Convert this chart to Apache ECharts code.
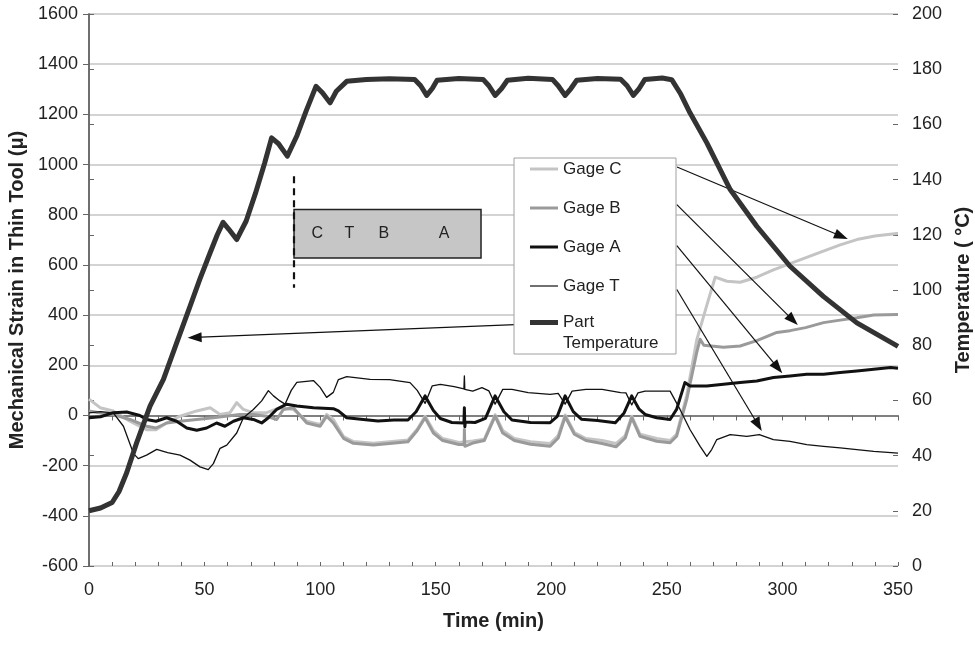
<!DOCTYPE html>
<html><head><meta charset="utf-8">
<script src="https://cdn.jsdelivr.net/npm/echarts@6/dist/echarts.min.js"></script>
<style>html,body{margin:0;padding:0;background:#fff}#c{width:975px;height:645px}</style>
</head><body><div id="c"></div><script>
const FONT = '"Liberation Sans", Arial, sans-serif';

// ---- data: [time (min), value] ----
const partTemperature = [[0,20],[5,21],[10,23],[13,27],[16.3,33.8],[20.6,44.6],[26.4,57.9],[32.2,67.6],[38,81],[43.7,94.1],[48,104],[52.4,113.5],[55.5,120],[58,124.5],[60.5,122],[63.9,118.3],[68,125],[72,135],[76,146],[79,155.1],[82,153],[85.8,148.5],[90,156],[94,165],[98.2,173.8],[101,171.5],[104.3,167.8],[107,172],[111.5,175.6],[120,176.3],[130,176.5],[140.9,176.3],[143.5,174],[146.1,170.5],[148.5,173],[150.6,176],[160,176.6],[170.5,176.3],[173,174],[175.7,170.5],[178.5,173],[181,176],[190,176.7],[200.5,176.3],[203,174],[206,170.5],[208.5,173],[211,176],[220,176.6],[230,176.4],[232.8,174],[235.5,170.5],[238,173],[240.5,176.3],[248,176.8],[252.1,176.2],[256,171],[260,164.2],[267.3,153.3],[277.4,136.4],[288.9,123.1],[303.3,108.6],[317.7,97.7],[332.2,88.1],[350,79.6]];

const gageA = [[0,-9],[5,-5],[10.5,11],[16.3,14],[22,0],[24.9,-16],[29,-23],[33.6,-9],[37.9,-23],[42.3,-50],[46.6,-59],[50.9,-50],[55.2,-30],[58.8,-43],[62.5,-23],[66.8,-9],[71.1,-16],[74.7,-30],[77.6,-9],[81.2,24],[85.5,45],[89.9,38],[97.1,31],[105.7,27],[107.9,18],[111.5,-9],[118.7,-16],[125,-22],[132,-18],[138,-18],[141.5,15],[145.4,78],[149,20],[152,-12],[157,-28],[162.2,-30],[162.4,31],[162.6,-45],[162.8,-26],[167,-28],[171.5,-12],[175.7,78],[179.5,15],[183,-18],[191,-28],[199.5,-29],[202.5,-5],[206,78],[209.5,15],[213,-15],[220,-20],[227.7,-29],[231.5,10],[234.8,78],[238,25],[240.6,4],[245.6,-9],[251.4,-16],[254.2,24],[257.8,131],[260,117],[267.3,117],[274.5,124],[281.7,131],[288.9,137],[296.1,151],[303.3,157],[310.5,164],[317.8,164],[325,171],[332.2,177],[339.5,184],[346.8,191],[350,188]];

const gageT = [[0,10],[5,15],[10.5,10],[14.9,-43],[19.2,-151],[21.3,-172],[24.9,-158],[29.3,-135],[34,-148],[39.4,-158],[43.7,-178],[48,-205],[51.6,-216],[53.8,-192],[56.7,-131],[59.6,-118],[63.9,-70],[66.8,-9],[71.1,24],[74.7,58],[77.6,99],[79.8,78],[82.6,58],[84.8,45],[87.5,100],[89.9,132],[97.1,139],[100,112],[102.8,72],[105.7,92],[107.9,143],[111.5,155],[121.6,144],[130,143],[138.9,131],[142,100],[145.4,48],[148.5,118],[152,124],[158,115],[162.2,106],[162.4,158],[162.6,104],[166,97],[170,111],[173,98],[175.7,45],[179,104],[183,104],[190,91],[199.5,84],[203,88],[206,45],[209,97],[215,104],[222,104],[230,91],[232.3,90],[234.8,42],[237.5,90],[240.6,97],[251.4,97],[255.7,24],[260,-56],[264.4,-123],[267.3,-163],[269.4,-136],[271.6,-96],[277.4,-76],[284.6,-83],[290,-76],[296.1,-96],[303.3,-103],[310.5,-116],[317.8,-123],[325,-129],[332.2,-136],[339.5,-143],[350,-150]];

const gageB = [[0,18],[5,10],[10.5,4],[17.7,-16],[24.9,-43],[29,-50],[33.6,-30],[39.4,-23],[46.6,-16],[53.8,-9],[59,-3],[65.3,4],[71,4],[76.9,-3],[81.2,-16],[84.1,24],[88.4,31],[94.2,-30],[100,-43],[102.8,-3],[105.7,-30],[110.1,-91],[114.4,-111],[123,-118],[130,-112],[138,-105],[142,-60],[145.4,-9],[149,-70],[153,-100],[160,-116],[162.3,-116],[162.4,-56],[162.6,-123],[166,-110],[171,-100],[175.7,-3],[179,-70],[184,-100],[191,-115],[199.5,-123],[203,-90],[206,-5],[210,-75],[215,-100],[222,-112],[228,-125],[232,-90],[234.8,-9],[238.4,-83],[245.6,-103],[251.4,-109],[254.2,-83],[258.6,64],[262.9,250],[264.4,304],[266,280],[274.5,272],[281.7,277],[288.9,298],[297.6,331],[303.3,338],[310,350],[317.8,370],[325,380],[332.2,389],[339.5,400],[350,402]];

const gageC = [[0,65],[4.8,31],[10.5,18],[17.7,-23],[24.9,-57],[29,-57],[33.6,-30],[39.4,-3],[46.6,18],[52.4,31],[56.7,4],[61,11],[63.9,51],[66.8,24],[71,11],[76.9,11],[82.6,31],[88.4,24],[94.2,-23],[100,-36],[102.8,4],[105.7,-16],[110.1,-84],[114.4,-104],[123,-111],[130,-105],[138,-98],[142,-55],[145.4,-3],[149,-60],[153,-92],[160,-108],[166,-102],[171,-95],[175.7,3],[179,-60],[184,-92],[191,-105],[199.5,-112],[203,-80],[206,2],[210,-68],[215,-92],[222,-100],[228,-112],[232,-80],[234.8,-3],[238.4,-75],[245.6,-92],[251.4,-100],[254.2,-75],[258.6,80],[262.9,300],[267.3,440],[270.9,551],[276,535],[281.7,531],[288.9,551],[296.1,580],[303.3,605],[310.5,630],[317.7,655],[325,680],[332.2,701],[340,715],[349.5,725],[350,725]];

// annotation positions (data coordinates: time, strain)
const legendArrows = [
  [[254.4, 990], [325.5, 714]],   // Gage C
  [[254.3, 840], [304.5, 380]],   // Gage B
  [[254.3, 677], [298.0, 190]],   // Gage A
  [[254.3, 502], [289.5, -38]],   // Gage T
  [[184.3, 362], [45.7, 311]]     // Part Temperature
];
const insetBox = [[88.7, 821], [169.6, 628]];
const insetDash = [[88.7, 953], [88.7, 509]];
const insetLetters = [['C', 98.8, 725], ['T', 112.6, 725], ['B', 127.6, 725], ['A', 153.6, 725]];

const legendItems = [
  {name: 'Gage C', color: '#c4c4c4', width: 3},
  {name: 'Gage B', color: '#9a9a9a', width: 3},
  {name: 'Gage A', color: '#111111', width: 3},
  {name: 'Gage T', color: '#111111', width: 1.2},
  {name: 'Part Temperature', color: '#333333', width: 5}
];

const chart = echarts.init(document.getElementById('c'), null, {renderer: 'canvas'});

const axisLabelStyle = {color: '#222', fontSize: 18, fontFamily: FONT};
const axisLineStyle = {show: true, lineStyle: {color: '#666', width: 1.5}};
const plain = v => String(v);

function lineSeries(name, data, color, width, yIdx, z) {
  return {
    name, type: 'line', data, xAxisIndex: 0, yAxisIndex: yIdx,
    showSymbol: false, symbol: 'none', silent: true, z,
    lineStyle: {color, width, join: 'round'},
    itemStyle: {color}
  };
}

const sC = lineSeries('Gage C', gageC, '#c4c4c4', 3, 0, 2);
const sB = lineSeries('Gage B', gageB, '#9a9a9a', 3, 0, 3);
const sA = lineSeries('Gage A', gageA, '#111111', 3, 0, 4);
const sT = lineSeries('Gage T', gageT, '#111111', 1.3, 0, 5);
const sP = lineSeries('Part Temperature', partTemperature, '#333333', 5, 1, 6);

sT.markLine = {
  silent: true, animation: false,
  symbol: ['none', 'triangle'], symbolSize: [10, 14],
  label: {show: false},
  lineStyle: {color: '#111', width: 1.2, type: 'solid'},
  itemStyle: {color: '#111'},
  emphasis: {disabled: true},
  data: legendArrows.map(a => [{coord: a[0]}, {coord: a[1]}]).concat([
    [{coord: insetDash[0], symbol: 'none', lineStyle: {type: [7, 5], width: 2.2, color: '#111'}},
     {coord: insetDash[1], symbol: 'none'}]
  ])
};
sT.markArea = {
  silent: true,
  itemStyle: {color: '#c6c6c6', borderColor: '#222', borderWidth: 1.5},
  label: {show: false},
  data: [[{coord: insetBox[0]}, {coord: insetBox[1]}]]
};
sT.markPoint = {
  silent: true, symbol: 'rect', symbolSize: 1,
  itemStyle: {color: 'rgba(0,0,0,0)'},
  label: {show: true, position: 'inside', formatter: '{b}', color: '#222', fontSize: 16, fontFamily: FONT},
  data: insetLetters.map(l => ({name: l[0], coord: [l[1], l[2]]}))
};

// manual legend (box, sample lines, labels)
const legendBox = {x: 514, y: 158, w: 162, h: 196};
const legendRowY = [169, 208, 247, 286, 322.5];
const graphics = [{
  type: 'rect', z: 100, silent: true,
  shape: {x: legendBox.x, y: legendBox.y, width: legendBox.w, height: legendBox.h},
  style: {fill: '#fff', stroke: '#a0a0a0', lineWidth: 1}
}];
legendItems.forEach((it, i) => {
  const y = legendRowY[i];
  graphics.push({type: 'line', z: 101, silent: true,
    shape: {x1: 530, y1: y, x2: 558, y2: y},
    style: {stroke: it.color, lineWidth: it.width}});
  const lines = it.name === 'Part Temperature' ? ['Part', 'Temperature'] : [it.name];
  lines.forEach((txt, j) => {
    graphics.push({type: 'text', z: 101, silent: true, x: 563, y: y + j * 20.5,
      style: {text: txt, fill: '#222', font: '17px ' + FONT, verticalAlign: 'middle', align: 'left'}});
  });
});

const titleStyle = {color: '#222', fontSize: 20, fontWeight: 'bold', fontFamily: FONT};

const option = {
  animation: false,
  backgroundColor: '#fff',
  grid: {left: 89, right: 77, top: 14, bottom: 79, containLabel: false, outerBoundsMode: 'none'},
  xAxis: [{
    type: 'value', min: 0, max: 350, interval: 10, position: 'bottom',
    name: 'Time (min)', nameLocation: 'middle', nameGap: 45, nameTextStyle: titleStyle,
    axisLine: axisLineStyle,
    axisTick: {show: true, length: 5, lineStyle: {color: '#666', width: 1}},
    axisLabel: Object.assign({margin: 15, formatter: v => (v % 50 === 0 ? String(v) : ''), showMinLabel: true, showMaxLabel: true, hideOverlap: false}, axisLabelStyle),
    splitLine: {show: false}
  }, {
    type: 'value', min: 0, max: 350, interval: 10, position: 'bottom', offset: 0,
    axisLine: {show: false}, axisLabel: {show: false},
    axisTick: {show: true, inside: true, length: 4, lineStyle: {color: '#666', width: 1}},
    splitLine: {show: false}
  }],
  yAxis: [{
    type: 'value', min: -600, max: 1600, interval: 200, position: 'left',
    name: 'Mechanical Strain in Thin Tool (\u03bc)', nameLocation: 'middle', nameGap: 55, nameTextStyle: titleStyle,
    axisLine: axisLineStyle,
    axisTick: {show: true, length: 6, lineStyle: {color: '#666', width: 1}},
    axisLabel: Object.assign({margin: 11, formatter: plain}, axisLabelStyle),
    splitLine: {show: true, lineStyle: {color: '#c4c4c4', width: 1.5}}
  }, {
    type: 'value', min: 0, max: 200, interval: 20, position: 'right',
    name: 'Temperature ( \u00b0C)', nameLocation: 'middle', nameGap: 55, nameTextStyle: titleStyle,
    axisLine: axisLineStyle,
    axisTick: {show: true, length: 5, lineStyle: {color: '#666', width: 1}},
    axisLabel: Object.assign({margin: 14, formatter: plain}, axisLabelStyle),
    splitLine: {show: false}
  }, {
    type: 'value', min: 0, max: 200, interval: 20, position: 'right', offset: 0,
    axisLine: {show: false}, axisLabel: {show: false},
    axisTick: {show: true, inside: true, length: 5, lineStyle: {color: '#666', width: 1}},
    splitLine: {show: false}
  }],
  series: [sC, sB, sA, sT, sP],
  graphic: graphics
};
chart.setOption(option);
</script></body></html>
